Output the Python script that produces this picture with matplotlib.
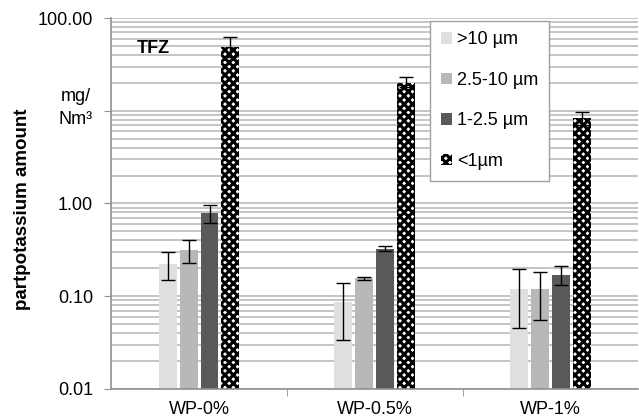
import numpy as np
import matplotlib
matplotlib.use("Agg")
from matplotlib import pyplot as plt
from matplotlib.ticker import LogLocator, FixedLocator, NullFormatter, FuncFormatter

plt.rcParams['font.family'] = ['Liberation Sans', 'DejaVu Sans']
plt.rcParams['hatch.color'] = 'black'
plt.rcParams['hatch.linewidth'] = 2.2

# dados
categorias = ['WP-0%', 'WP-0.5%', 'WP-1%']
series = ['>10 µm', '2.5-10 µm', '1-2.5 µm', '<1µm']
valores = [
    [0.22, 0.087, 0.121],
    [0.315, 0.156, 0.119],
    [0.79, 0.326, 0.171],
    [49.0, 20.1, 8.3],
]
erro_baixo = [
    [0.149, 0.034, 0.045],
    [0.226, 0.150, 0.055],
    [0.62, 0.31, 0.131],
    [38.0, 18.0, 7.0],
]
erro_cima = [
    [0.30, 0.14, 0.198],
    [0.40, 0.162, 0.184],
    [0.97, 0.35, 0.21],
    [63.0, 23.0, 9.6],
]
cores = ['#e0e0e0', '#b8b8b8', '#595959', 'white']
hachuras = [None, None, None, 'xxxx']

fig = plt.figure(figsize=(6.39, 4.2), dpi=100)
ax = fig.add_axes([0.174, 0.074, 0.825, 0.883])

x = np.arange(len(categorias))
larg = 0.102
passo = 0.119
for i in range(4):
    v = np.array(valores[i])
    yerr = [v - np.array(erro_baixo[i]), np.array(erro_cima[i]) - v]
    ax.bar(x + (i - 1.5) * passo, v, larg, color=cores[i], hatch=hachuras[i],
           edgecolor='black' if hachuras[i] else cores[i], linewidth=0,
           label=series[i], zorder=2)
    ax.errorbar(x + (i - 1.5) * passo, v, yerr=yerr, fmt='none', ecolor='black',
                elinewidth=1, capsize=5, capthick=1, zorder=3)

ax.set_yscale('log')
ax.set_ylim(0.01, 100)
ax.set_xlim(-0.5, 2.5)
ax.yaxis.set_major_locator(LogLocator(base=10, numticks=10))
ax.yaxis.set_minor_locator(LogLocator(base=10, subs=np.arange(2, 10), numticks=10))
# o 10.00 nao aparece, no lugar fica a unidade
ax.yaxis.set_major_formatter(FuncFormatter(lambda v, p: '' if abs(v - 10) < 1e-6 else '%.2f' % v))
ax.yaxis.set_minor_formatter(NullFormatter())
ax.grid(True, which='both', axis='y', color='#c4c4c4', linewidth=1.4, zorder=0)
ax.set_axisbelow(True)

ax.set_xticks(x)
ax.set_xticklabels(categorias, fontsize=13)
ax.xaxis.set_minor_locator(FixedLocator([0.5, 1.5]))
ax.tick_params(axis='x', which='major', length=0, pad=9)
ax.tick_params(axis='x', which='minor', length=5, color='#909090')
ax.tick_params(axis='y', which='major', labelsize=13, length=5, color='#909090', pad=8)
ax.tick_params(axis='y', which='minor', length=0)

for lado in ['top', 'right']:
    ax.spines[lado].set_visible(False)
for lado in ['left', 'bottom']:
    ax.spines[lado].set_color('#909090')
    ax.spines[lado].set_linewidth(1.2)

ax.set_ylabel('partpotassium amount', fontsize=13.5, fontweight='bold')
ax.yaxis.set_label_coords(-0.152, 0.485)
fig.text(0.119, 0.743, 'mg/\nNm³', fontsize=13, ha='center', va='center', linespacing=1.5)
ax.text(0.048, 0.906, 'TFZ', transform=ax.transAxes, fontsize=13, fontweight='bold',
        va='baseline')

leg = ax.legend(loc='upper left', bbox_to_anchor=(0.605, 0.993), borderaxespad=0,
                fontsize=13, handlelength=0.6, handleheight=0.6, handletextpad=0.3,
                labelspacing=1.3, borderpad=0.6, fancybox=False, framealpha=1)
leg.get_frame().set_edgecolor('#a0a0a0')

fig.savefig('out.png', dpi=100)
